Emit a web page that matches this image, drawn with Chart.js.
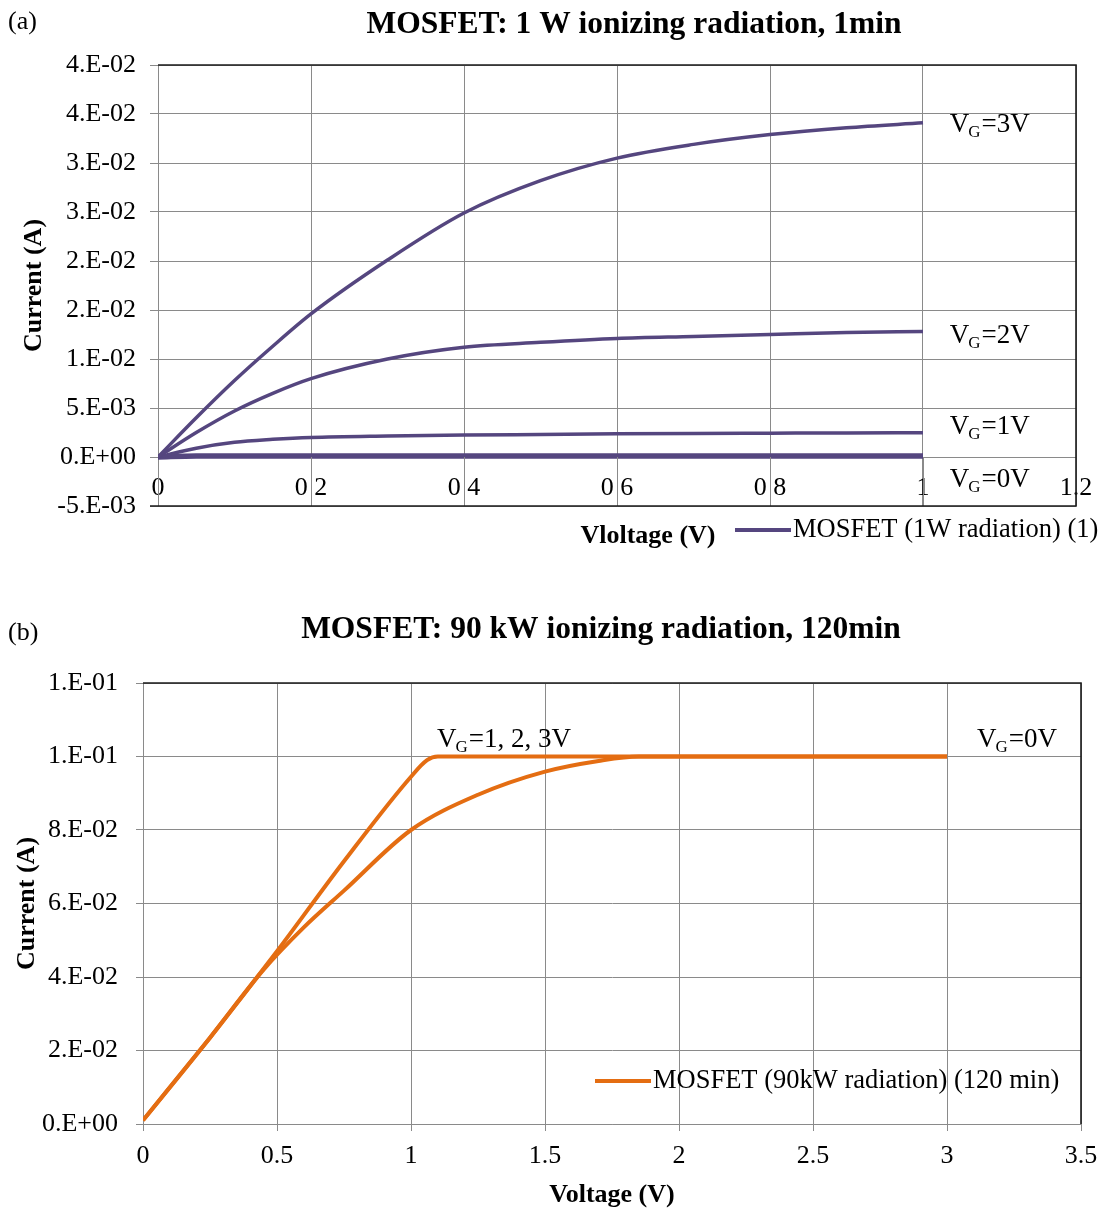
<!DOCTYPE html>
<html>
<head>
<meta charset="utf-8">
<script src="https://cdn.jsdelivr.net/npm/chart.js@4.4.1/dist/chart.umd.min.js"></script>
<style>
  body { margin: 0; background: #fff; }
  .panel { position: absolute; left: 0; width: 1103px; }
  #panelA { top: 0; height: 590px; }
  #panelB { top: 590px; height: 621px; }
</style>
</head>
<body>
<div class="panel" id="panelA"><canvas id="chartA" width="1103" height="590"></canvas></div>
<div class="panel" id="panelB"><canvas id="chartB" width="1103" height="621"></canvas></div>
<script>
// ---- (a) 1 W ionizing radiation, 1 min : I-V per gate voltage ----
const voltsA     = [0, 0.05, 0.1, 0.15, 0.2, 0.3, 0.4, 0.5, 0.6, 0.7, 0.8, 0.9, 1.0];
const currentVg3 = [0, 0.0040, 0.0078, 0.0113, 0.0146, 0.0201, 0.0249, 0.0282, 0.0305, 0.0319, 0.0329, 0.0336, 0.0341];
const currentVg2 = [0, 0.0025, 0.0047, 0.0065, 0.0080, 0.0100, 0.0112, 0.0117, 0.0121, 0.0123, 0.0125, 0.0127, 0.0128];
const currentVg1 = [0, 0.0009, 0.0015, 0.0018, 0.0020, 0.00215, 0.00224, 0.0023, 0.00236, 0.0024, 0.00243, 0.00246, 0.00248];
const currentVg0 = [0, 0.0001, 0.0001, 0.0001, 0.0001, 0.0001, 0.0001, 0.0001, 0.0001, 0.0001, 0.0001, 0.0001, 0.0001];
const xTicksA = ['0', '0.2', '0.4', '0.6', '0.8', '1', '1.2'];
const yTicksA = ['-5.E-03', '0.E+00', '5.E-03', '1.E-02', '2.E-02', '2.E-02', '3.E-02', '3.E-02', '4.E-02', '4.E-02'];

// ---- (b) 90 kW ionizing radiation, 120 min ----
const voltsSteep   = [0, 0.25, 0.5, 0.75, 1.0, 1.06, 1.1, 1.5, 2.0, 2.5, 3.0];
const currentSteep = [0.001, 0.0235, 0.047, 0.0715, 0.0945, 0.099, 0.1, 0.1, 0.1, 0.1, 0.1];
const voltsSoft    = [0, 0.25, 0.45, 0.6, 0.75, 1.0, 1.25, 1.5, 1.7, 1.85, 2.0, 2.5, 3.0];
const currentSoft  = [0.001, 0.0235, 0.042, 0.0535, 0.0635, 0.080, 0.0896, 0.0959, 0.0988, 0.1, 0.1, 0.1, 0.1];
const xTicksB = ['0', '0.5', '1', '1.5', '2', '2.5', '3', '3.5'];
const yTicksB = ['0.E+00', '2.E-02', '4.E-02', '6.E-02', '8.E-02', '1.E-01', '1.E-01'];

const serif = "'Liberation Serif', 'Times New Roman', serif";
const purple = '#55467f';
const orange = '#e46d12';
const gridGrey = '#8a8a8a';

Chart.defaults.font.family = serif;
Chart.defaults.color = '#000';

function toPoints(xs, ys) {
    return xs.map((x, i) => ({ x: x, y: ys[i] }));
}

// keep the end labels from pushing the plot edges in
function noSidePadding(s) {
    s.paddingLeft = 0;
    s.paddingRight = 0;
}

// V with subscript G, then the rest of the label
function drawVg(ctx, x, y, rest) {
    ctx.textAlign = 'left';
    ctx.textBaseline = 'middle';
    ctx.font = '27px ' + serif;
    ctx.fillText('V', x, y);
    let w = ctx.measureText('V').width;
    ctx.font = '17px ' + serif;
    ctx.fillText('G', x + w - 1, y + 8);
    w += ctx.measureText('G').width;
    ctx.font = '27px ' + serif;
    ctx.fillText(rest, x + w, y);
}

// frame, titles, gate-voltage labels and legend line
const decor = {
    id: 'decor',
    afterDraw(chart, args, opts) {
        const ctx = chart.ctx;
        const area = chart.chartArea;
        const sx = chart.scales.x, sy = chart.scales.y;
        ctx.save();

        // grid lines running through the x labels on the zero line
        if (opts.zeroGrid) {
            const y0 = sy.getPixelForValue(0);
            sx.ticks.forEach((t, i) => {
                if (t.value <= 0 || t.value >= sx.max) return;
                const px = Math.round(sx.getPixelForValue(t.value)) + 0.5;
                if (String(sx.ticks[i].label).includes('.')) {
                    ctx.strokeStyle = '#fff';
                    ctx.lineWidth = 5;
                    ctx.beginPath();
                    ctx.moveTo(px, y0 + 24);
                    ctx.lineTo(px, y0 + 40);
                    ctx.stroke();
                }
                ctx.strokeStyle = gridGrey;
                ctx.lineWidth = 1;
                ctx.beginPath();
                ctx.moveTo(px, y0);
                ctx.lineTo(px, area.bottom);
                ctx.stroke();
            });
        }

        // dark frame on top, right (and bottom for panel a)
        ctx.strokeStyle = '#1c1c1c';
        ctx.lineWidth = 1.6;
        ctx.beginPath();
        ctx.moveTo(area.left, area.top);
        ctx.lineTo(area.right, area.top);
        ctx.lineTo(area.right, area.bottom);
        if (opts.bottomFrame) ctx.lineTo(area.left - 8, area.bottom);
        ctx.stroke();

        ctx.fillStyle = '#000';
        ctx.textBaseline = 'middle';
        ctx.textAlign = 'left';
        ctx.font = '26px ' + serif;
        ctx.fillText(opts.tag, 8, opts.tagY);

        ctx.textAlign = 'center';
        ctx.font = 'bold 31.5px ' + serif;
        ctx.fillText(opts.title, opts.titleX, opts.titleY);

        if (opts.xTitle) {
            ctx.font = 'bold 26px ' + serif;
            ctx.fillText(opts.xTitle, opts.xTitleX, opts.legendY + 6);
        }

        opts.vgLabels.forEach(l => {
            drawVg(ctx, sx.getPixelForValue(l.x), sy.getPixelForValue(l.y), l.text);
        });

        // legend sample
        const ds = chart.data.datasets[0];
        ctx.strokeStyle = ds.borderColor;
        ctx.lineWidth = 4;
        ctx.beginPath();
        ctx.moveTo(opts.legendX, opts.legendY);
        ctx.lineTo(opts.legendX + 56, opts.legendY);
        ctx.stroke();
        ctx.fillStyle = '#000';
        ctx.textAlign = 'left';
        ctx.font = '26.5px ' + serif;
        ctx.fillText(ds.label, opts.legendX + 58, opts.legendY);

        ctx.restore();
    }
};

const lineBase = {
    pointRadius: 0,
    fill: false,
    cubicInterpolationMode: 'monotone'
};

new Chart(document.getElementById('chartA'), {
    type: 'line',
    data: {
        datasets: [
            Object.assign({ label: 'MOSFET (1W radiation) (1)', data: toPoints(voltsA, currentVg3), borderColor: purple, borderWidth: 3.5 }, lineBase),
            Object.assign({ label: 'VG=2V', data: toPoints(voltsA, currentVg2), borderColor: purple, borderWidth: 3.5 }, lineBase),
            Object.assign({ label: 'VG=1V', data: toPoints(voltsA, currentVg1), borderColor: purple, borderWidth: 3.5 }, lineBase),
            Object.assign({ label: 'VG=0V', data: toPoints(voltsA, currentVg0), borderColor: purple, borderWidth: 5.5 }, lineBase)
        ]
    },
    options: {
        responsive: false,
        animation: false,
        devicePixelRatio: 1,
        layout: { padding: { left: 0, top: 65, right: 27, bottom: 84 } },
        scales: {
            x: {
                type: 'linear',
                position: { y: 0 },
                min: 0, max: 1.2,
                afterFit: noSidePadding,
                ticks: {
                    stepSize: 0.2,
                    padding: 16,
                    maxRotation: 0,
                    font: { size: 26 },
                    callback: (v, i) => xTicksA[i]
                },
                grid: { color: gridGrey, lineWidth: 1, drawTicks: false },
                border: { color: gridGrey }
            },
            y: {
                min: -0.005, max: 0.04,
                afterFit: s => { s.width = 158; },
                ticks: {
                    stepSize: 0.005,
                    padding: 14,
                    font: { size: 26 },
                    callback: (v, i) => yTicksA[i]
                },
                grid: { color: gridGrey, lineWidth: 1, tickLength: 8 },
                border: { color: gridGrey },
                title: {
                    display: true, text: 'Current (A)',
                    font: { size: 26, weight: 'bold' },
                    padding: { top: 19, bottom: 0 }
                }
            }
        },
        plugins: {
            legend: { display: false },
            tooltip: { enabled: false },
            decor: {
                tag: '(a)', tagY: 22,
                title: 'MOSFET: 1 W ionizing radiation, 1min', titleX: 634, titleY: 25,
                xTitle: 'Vloltage (V)', xTitleX: 648,
                legendX: 735, legendY: 530,
                zeroGrid: true, bottomFrame: true,
                vgLabels: [
                    { x: 1.035, y: 0.0339, text: '=3V' },
                    { x: 1.035, y: 0.01235, text: '=2V' },
                    { x: 1.035, y: 0.00306, text: '=1V' },
                    { x: 1.035, y: -0.00235, text: '=0V' }
                ]
            }
        }
    },
    plugins: [decor]
});

new Chart(document.getElementById('chartB'), {
    type: 'line',
    data: {
        datasets: [
            Object.assign({ label: 'MOSFET (90kW radiation) (120 min)', data: toPoints(voltsSteep, currentSteep), borderColor: orange, borderWidth: 4 }, lineBase),
            Object.assign({ label: 'VG=0V', data: toPoints(voltsSoft, currentSoft), borderColor: orange, borderWidth: 4 }, lineBase)
        ]
    },
    options: {
        responsive: false,
        animation: false,
        devicePixelRatio: 1,
        layout: { padding: { left: 0, top: 93, right: 22, bottom: 0 } },
        scales: {
            x: {
                type: 'linear',
                min: 0, max: 3.5,
                afterFit: s => { noSidePadding(s); s.height = 87; },
                ticks: {
                    stepSize: 0.5,
                    padding: 10,
                    maxRotation: 0,
                    font: { size: 26 },
                    callback: (v, i) => xTicksB[i]
                },
                grid: { color: gridGrey, lineWidth: 1, tickLength: 7 },
                border: { color: gridGrey },
                title: {
                    display: true, text: 'Voltage (V)',
                    font: { size: 26, weight: 'bold' },
                    padding: { top: 0, bottom: 0 }
                }
            },
            y: {
                min: 0, max: 0.12,
                afterFit: s => { s.width = 143; },
                ticks: {
                    stepSize: 0.02,
                    padding: 18,
                    font: { size: 26 },
                    callback: (v, i) => yTicksB[i]
                },
                grid: { color: gridGrey, lineWidth: 1, tickLength: 7 },
                border: { color: gridGrey },
                title: {
                    display: true, text: 'Current (A)',
                    font: { size: 26, weight: 'bold' },
                    padding: { top: 12, bottom: 0 }
                }
            }
        },
        plugins: {
            legend: { display: false },
            tooltip: { enabled: false },
            decor: {
                tag: '(b)', tagY: 43,
                title: 'MOSFET: 90 kW ionizing radiation, 120min', titleX: 601, titleY: 40,
                legendX: 595, legendY: 491,
                zeroGrid: false, bottomFrame: false,
                vgLabels: [
                    { x: 1.097, y: 0.1045, text: '=1, 2, 3V' },
                    { x: 3.112, y: 0.1045, text: '=0V' }
                ]
            }
        }
    },
    plugins: [decor]
});
</script>
</body>
</html>
